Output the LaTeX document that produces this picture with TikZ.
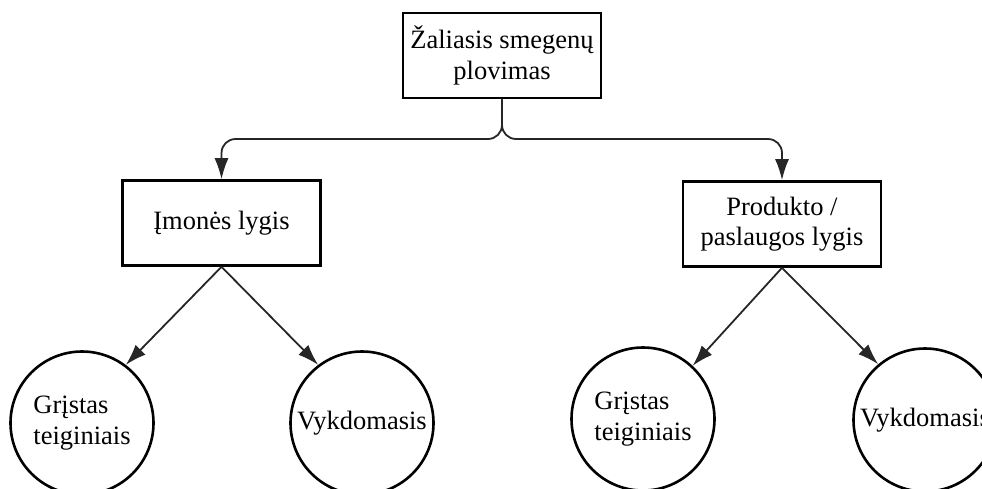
\documentclass[tikz,border=0pt]{standalone}
\usepackage{fontspec}
\setmainfont{Liberation Serif}
\usetikzlibrary{arrows.meta}

\begin{document}
\begin{tikzpicture}[x=1pt,y=-1pt,
  every node/.style={font=\fontsize{26.5}{30.5}\selectfont, align=center, inner sep=0pt},
  levelbox/.style={draw=black, line width=2.6pt, minimum width=198pt, minimum height=85pt},
  leaf/.style={circle, draw=black, line width=2.6pt, minimum size=143pt, align=left},
  link/.style={draw=black!85, line width=1.8pt, -{Latex[length=21pt,width=14pt]}}
]
  \useasboundingbox (0,0) rectangle (982,488);
  \clip (0,0) rectangle (982,488);

  % boxes
  \node[levelbox] (root) at (502,55.5) {Žaliasis smegenų\\plovimas};
  \node[levelbox] (firm) at (221.5,223) {Įmonės lygis};
  \node[levelbox] (prod) at (782,224) {Produkto /\\paslaugos lygis};

  % leaf circles
  \node[leaf] (f1) at (82,423)  {Grįstas\\teiginiais};
  \node[leaf] (f2) at (362,423) {Vykdomasis};
  \node[leaf] (p1) at (643,419) {Grįstas\\teiginiais};
  \node[leaf] (p2) at (925,420) {Vykdomasis};

  % branching bar under the root
  \coordinate (bar) at (502,139);
  \draw[link, rounded corners=14pt] (root.south) -- (root.south |- bar) -- (firm.north |- bar) -- (firm.north);
  \draw[link, rounded corners=14pt] (root.south) -- (root.south |- bar) -- (prod.north |- bar) -- (prod.north);

  % arrows to the leaves
  \draw[link] (firm.south) -- (f1.53);
  \draw[link] (firm.south) -- (f2.127);
  \draw[link] (prod.south) -- (p1.47);
  \draw[link] (prod.south) -- (p2.130);
\end{tikzpicture}
\end{document}
